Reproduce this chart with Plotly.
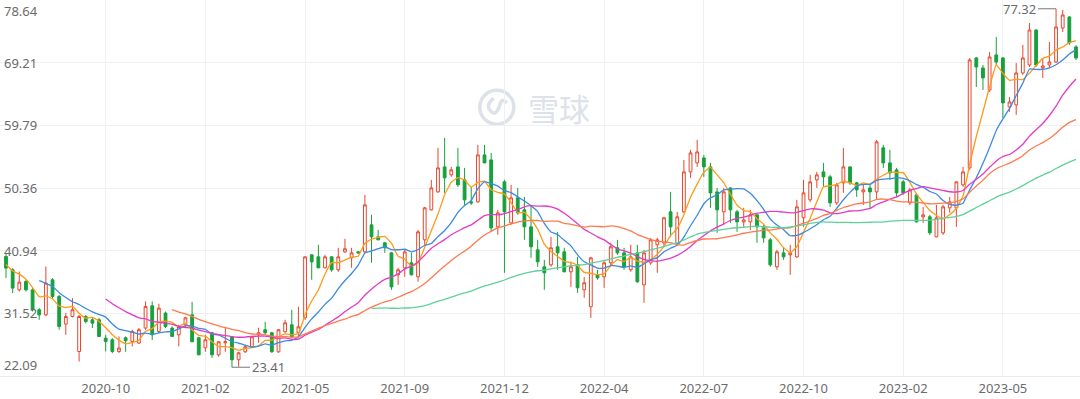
import plotly.graph_objects as go

# ---------------- data (weekly candles) ----------------
opens = [40.06, 38.06, 35.05, 36.30, 35.05, 32.05, 31.29, 36.56, 34.05, 29.90,
         31.04, 25.78, 31.04, 30.54, 30.54, 27.79, 27.54, 25.78, 27.84, 27.29,
         27.04, 29.30, 32.65, 28.79, 31.55, 29.30, 28.29, 29.79, 31.29, 27.84,
         26.34, 28.59, 25.28, 27.09, 27.99, 24.53, 25.73, 26.49, 28.29, 29.05,
         28.59, 25.73, 28.74, 29.79, 28.59, 30.84, 40.31, 40.01, 38.36, 40.01,
         38.06, 40.76, 39.86, 40.76, 40.76, 44.82, 43.02, 42.12, 40.61, 37.31,
         38.36, 39.11, 37.01, 42.57, 47.08, 49.78, 53.54, 52.34, 53.54, 51.59,
         48.28, 48.28, 55.34, 54.59, 44.52, 51.29, 45.12, 48.88, 47.08, 44.52,
         41.07, 38.51, 38.81, 41.52, 40.76, 37.76, 38.81, 35.05, 32.50, 37.31,
         37.01, 39.11, 41.37, 40.61, 38.06, 40.61, 35.80, 39.11, 41.82, 42.12,
         46.78, 42.12, 46.78, 52.79, 54.14, 54.89, 53.54, 49.78, 46.78, 50.38,
         46.78, 45.27, 45.27, 46.33, 44.37, 42.57, 38.51, 40.61, 40.31, 40.01,
         45.88, 48.58, 51.59, 52.79, 52.04, 48.13, 51.14, 53.54, 51.14, 49.78,
         50.38, 49.78, 56.40, 54.14, 53.09, 51.29, 48.13, 49.33, 46.03, 46.03,
         43.02, 43.62, 47.38, 47.38, 50.84, 53.39, 69.92, 68.42, 65.11, 70.37,
         69.92, 62.56, 62.86, 67.67, 68.87, 74.13, 68.42, 68.87, 69.32, 74.43,
         76.09, 71.58]
highs = [40.56, 38.31, 37.80, 36.56, 35.31, 32.30, 38.56, 36.81, 34.30, 31.55,
         33.80, 31.29, 31.29, 30.80, 30.84, 28.29, 27.79, 28.04, 28.04, 29.05,
         29.30, 33.30, 33.30, 32.95, 31.79, 29.54, 29.79, 30.99, 33.25, 27.99,
         28.29, 28.74, 27.30, 29.49, 28.00, 25.73, 26.79, 28.00, 29.34, 30.24,
         28.74, 29.10, 30.54, 32.05, 32.50, 40.10, 40.40, 41.82, 40.31, 40.10,
         41.37, 42.72, 41.37, 40.90, 49.33, 46.33, 44.07, 42.27, 40.76, 38.36,
         41.07, 40.61, 44.07, 47.53, 51.59, 56.40, 57.90, 53.54, 56.40, 53.39,
         50.53, 56.85, 56.85, 55.64, 47.08, 51.59, 50.84, 50.38, 49.03, 47.83,
         42.57, 39.56, 43.02, 43.77, 41.37, 39.26, 40.01, 37.01, 40.01, 38.06,
         39.56, 42.12, 42.57, 41.37, 41.82, 41.82, 41.07, 42.87, 42.87, 46.03,
         49.78, 46.78, 54.59, 56.10, 57.60, 55.34, 54.14, 50.38, 50.38, 50.45,
         47.08, 47.38, 47.08, 46.40, 44.82, 42.87, 41.07, 41.37, 41.82, 48.58,
         51.59, 52.34, 52.79, 54.14, 52.34, 51.14, 56.40, 53.60, 51.29, 50.84,
         50.84, 57.60, 56.85, 56.10, 53.39, 51.59, 50.38, 49.63, 47.53, 46.33,
         47.83, 47.83, 49.03, 51.35, 53.54, 69.92, 70.07, 68.87, 70.82, 73.08,
         70.07, 64.06, 69.17, 71.88, 75.18, 74.20, 69.92, 72.33, 77.32, 77.14,
         76.20, 71.88]
lows = [36.81, 34.56, 34.80, 34.80, 31.79, 30.54, 31.10, 33.80, 29.05, 28.29,
        30.90, 24.28, 30.00, 29.30, 27.95, 25.78, 25.53, 25.53, 25.73, 26.54,
        26.90, 29.05, 27.50, 28.54, 29.30, 27.95, 26.54, 29.34, 27.20, 25.20,
        25.73, 24.83, 24.98, 25.73, 23.41, 23.50, 25.58, 26.40, 27.09, 28.29,
        25.58, 25.58, 28.59, 27.90, 27.99, 30.54, 36.56, 38.30, 38.30, 37.76,
        37.76, 40.61, 38.36, 40.45, 40.60, 39.11, 42.50, 40.61, 35.05, 35.80,
        37.01, 37.20, 36.26, 41.82, 47.00, 49.63, 49.63, 52.04, 50.53, 47.83,
        47.83, 48.13, 54.10, 43.77, 43.32, 37.61, 44.82, 46.33, 42.57, 39.86,
        38.51, 35.05, 38.51, 38.06, 37.70, 35.50, 34.60, 33.85, 30.84, 36.56,
        35.35, 38.51, 40.31, 38.06, 37.76, 36.11, 33.10, 38.81, 37.61, 41.52,
        43.02, 41.82, 46.63, 51.89, 53.54, 52.04, 47.38, 43.62, 44.82, 45.12,
        43.77, 44.52, 44.07, 42.12, 42.12, 38.51, 38.06, 39.56, 37.31, 39.86,
        44.52, 48.28, 50.38, 50.53, 47.53, 47.83, 49.63, 50.84, 49.03, 47.83,
        47.38, 48.58, 53.39, 51.59, 49.03, 49.33, 47.83, 45.20, 45.12, 43.32,
        42.95, 43.32, 46.63, 44.52, 50.53, 53.09, 65.56, 65.11, 64.81, 68.87,
        60.90, 61.81, 61.36, 67.37, 68.57, 68.57, 66.92, 68.42, 69.17, 73.83,
        71.88, 69.62]
closes = [38.32, 35.31, 36.21, 35.05, 32.05, 31.29, 36.06, 34.05, 29.54, 31.04,
          32.05, 31.04, 30.29, 30.04, 28.04, 27.29, 25.78, 26.29, 27.39, 28.79,
          29.05, 32.55, 28.29, 32.30, 29.54, 28.04, 29.54, 30.84, 27.24, 25.28,
          27.54, 25.28, 27.24, 27.24, 24.53, 25.58, 26.49, 27.99, 28.59, 28.59,
          25.73, 29.05, 30.09, 27.99, 29.49, 40.01, 39.26, 38.36, 40.01, 38.06,
          40.01, 41.22, 40.61, 40.61, 47.83, 43.02, 42.57, 41.37, 35.50, 38.06,
          40.76, 37.31, 43.77, 47.38, 50.38, 53.39, 51.89, 53.09, 50.84, 48.58,
          48.13, 55.34, 54.14, 44.37, 46.63, 46.78, 48.88, 46.63, 44.52, 41.52,
          39.26, 37.61, 41.37, 40.61, 37.76, 38.51, 35.35, 36.11, 39.86, 36.86,
          39.11, 41.52, 40.61, 38.51, 40.01, 36.26, 40.61, 42.57, 42.57, 45.88,
          44.52, 46.03, 52.79, 55.64, 55.79, 53.54, 49.63, 47.08, 49.78, 47.08,
          45.27, 45.57, 46.33, 44.52, 42.87, 38.81, 40.76, 40.01, 40.61, 47.53,
          49.63, 51.29, 52.34, 52.04, 48.13, 50.84, 53.54, 51.14, 50.08, 50.08,
          49.78, 57.30, 54.14, 52.64, 49.63, 49.63, 50.08, 45.27, 46.33, 43.62,
          45.88, 47.53, 48.28, 51.29, 52.79, 69.62, 68.57, 66.92, 70.07, 69.32,
          63.16, 63.31, 67.67, 69.92, 74.13, 68.87, 68.72, 69.32, 74.58, 76.39,
          72.18, 69.92]
# closes of the 4 weeks before the visible window (only used to warm up the averages)
prior_closes = [40.2, 38.6, 38.8, 38.4]

tick_index = [15, 30, 45, 60, 75, 90, 105, 120, 135, 150]
tick_labels = ["2020-10", "2021-02", "2021-05", "2021-09", "2021-12",
               "2022-04", "2022-07", "2022-10", "2023-02", "2023-05"]
y_ticks = [22.09, 31.52, 40.94, 50.36, 59.79, 69.21, 78.64]
y_labels = ["22.09", "31.52", "40.94", "50.36", "59.79", "69.21", "78.64"]

ma_periods = [5, 10, 20, 30, 60]
ma_colors = ["#ff9a1a", "#3d8ae0", "#e23bc6", "#ff7a4d", "#5fd19a"]

# ---------------- figure ----------------
n = len(closes)
xs = list(range(n))
full = prior_closes + closes
k = len(prior_closes)

UP = "#e8472c"
DOWN = "#17a03b"
FONT = "Noto Sans, Noto Sans CJK SC, sans-serif"
WM = "#dde2ea"

fig = go.Figure()
fig.add_trace(go.Candlestick(
    x=xs, open=opens, high=highs, low=lows, close=closes,
    increasing=dict(line=dict(color=UP, width=1), fillcolor="#ffffff"),
    decreasing=dict(line=dict(color=DOWN, width=1), fillcolor=DOWN),
    whiskerwidth=0, hoverinfo="skip", showlegend=False,
))

for p, c in zip(ma_periods, ma_colors):
    ma = []
    for i in range(n):
        j = i + k
        if j - p + 1 < 0:
            ma.append(None)
        else:
            w = full[j - p + 1:j + 1]
            ma.append(sum(w) / p)
    fig.add_trace(go.Scatter(x=xs, y=ma, mode="lines",
                             line=dict(color=c, width=1.3, shape="spline", smoothing=0.3),
                             hoverinfo="skip", showlegend=False))

annotations = []
for i, (v, t) in enumerate(zip(y_ticks, y_labels)):
    if i == 0:
        ya = "bottom"
    elif i == len(y_ticks) - 1:
        ya = "top"
    else:
        ya = "middle"
    annotations.append(dict(x=0, xref="paper", y=v, yref="y", text=t,
                            showarrow=False, xanchor="left", yanchor=ya, xshift=2,
                            font=dict(family=FONT, size=13, color="#6b6b6b")))

imax = max(range(n), key=lambda i: highs[i])
imin = min(range(n), key=lambda i: lows[i])
annotations.append(dict(x=imax, y=highs[imax], xref="x", yref="y",
                        text=f"{highs[imax]:.2f}", showarrow=True, arrowhead=0,
                        arrowwidth=1, arrowcolor="#777", ax=-18, ay=0, xanchor="right",
                        standoff=0, font=dict(family=FONT, size=13, color="#6b6b6b")))
annotations.append(dict(x=imin, y=lows[imin], xref="x", yref="y",
                        text=f"{lows[imin]:.2f}", showarrow=True, arrowhead=0,
                        arrowwidth=1, arrowcolor="#777", ax=18, ay=0, xanchor="left",
                        standoff=0, font=dict(family=FONT, size=13, color="#6b6b6b")))
# watermark
annotations.append(dict(x=0.518, y=0.715, xref="paper", yref="paper", text="雪球",
                        showarrow=False, xanchor="center", yanchor="middle",
                        font=dict(family="Noto Sans CJK SC", size=31, color=WM)))

shapes = [
    dict(type="circle", xref="paper", yref="paper", xsizemode="pixel", ysizemode="pixel",
         xanchor=0.460, yanchor=0.715, x0=-17, x1=17, y0=-17, y1=17,
         line=dict(color=WM, width=3.5), layer="below"),
    dict(type="path", xref="paper", yref="paper", xsizemode="pixel", ysizemode="pixel",
         xanchor=0.460, yanchor=0.715,
         path="M -3 9 Q -12 2 -6 -4 Q -2 -8 1 -3 L 4 5 Q 6 9 10 4",
         line=dict(color=WM, width=3.5), layer="below"),
]

px_per_bar = 1070 / 161
fig.update_layout(
    width=1080, height=399,
    margin=dict(l=0, r=0, t=0, b=23),
    paper_bgcolor="#ffffff", plot_bgcolor="#ffffff",
    boxgap=0.4,
    xaxis=dict(range=[-6 / px_per_bar, 161 + 4 / px_per_bar],
               tickmode="array", tickvals=tick_index, ticktext=tick_labels,
               showgrid=True, gridcolor="#f0f0f0", gridwidth=1,
               showline=True, linecolor="#ececec", linewidth=1,
               ticks="", zeroline=False, rangeslider=dict(visible=False),
               tickfont=dict(family=FONT, size=13, color="#6b6b6b")),
    yaxis=dict(range=[22.09, 78.64], tickmode="array", tickvals=y_ticks,
               showticklabels=False, showgrid=True, gridcolor="#f0f0f0",
               zeroline=False, ticks=""),
    annotations=annotations, shapes=shapes,
    showlegend=False,
)

fig.write_html("out.html", config={"displayModeBar": False, "staticPlot": True},
               post_script="document.body.style.margin='0';document.body.style.overflow='hidden';")
